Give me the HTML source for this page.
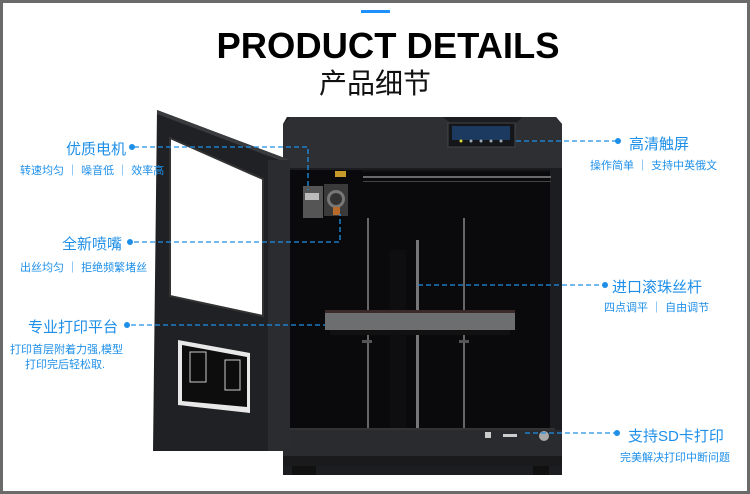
<!DOCTYPE html>
<html><head><meta charset="utf-8"><style>
html,body{margin:0;padding:0;background:#fff}
svg{display:block}
.t{font-family:"Liberation Sans","Noto Sans CJK SC",sans-serif;fill:#1e8fe8}
</style></head><body>
<svg width="750" height="494" viewBox="0 0 750 494" xmlns="http://www.w3.org/2000/svg">
<rect x="0" y="0" width="750" height="494" fill="#6a6a6a"/>
<rect x="3" y="3" width="744" height="488" fill="#fff"/>
<rect x="361" y="10" width="29" height="3" fill="#1e90ff"/>
<text x="388" y="58" text-anchor="middle" font-family="Liberation Sans,sans-serif" font-weight="bold" font-size="36" textLength="343" lengthAdjust="spacingAndGlyphs" fill="#000">PRODUCT DETAILS</text>
<text x="375" y="93" text-anchor="middle" font-family="Noto Sans CJK SC,sans-serif" font-size="28" fill="#111">产品细节</text>

<!-- printer body -->
<path d="M287 117 L556 117 L562 124 L562 475 L283 475 L283 124 Z" fill="#1c1d20"/>
<path d="M283 124 L290 117 L443 117 L450 123 L516 123 L522 117 L556 117 L562 124 L562 168 L283 168 Z" fill="#2d2f33"/>
<rect x="448" y="123" width="67" height="24" fill="#15161a" stroke="#444" stroke-width="1"/>
<rect x="452" y="126" width="58" height="14" fill="#1c3a60"/>
<g fill="#9ab">
<circle cx="461" cy="141" r="1.5" fill="#dd3"/><circle cx="471" cy="141" r="1.5"/><circle cx="481" cy="141" r="1.5"/><circle cx="491" cy="141" r="1.5"/><circle cx="501" cy="141" r="1.5"/></g>
<rect x="290" y="170" width="260" height="258" fill="#0a0a0c"/>
<rect x="362" y="170" width="188" height="2" fill="#111"/>
<rect x="363" y="176" width="188" height="2" fill="#6a6a6a"/>
<rect x="363" y="181" width="188" height="1" fill="#444"/>
<!-- extruder -->
<rect x="303" y="186" width="20" height="32" fill="#555"/>
<rect x="305" y="193" width="14" height="7" fill="#bbb"/>
<rect x="324" y="184" width="24" height="32" fill="#3a3a3a"/>
<circle cx="336" cy="199" r="9" fill="#777"/>
<circle cx="336" cy="199" r="6" fill="#333"/>
<rect x="333" y="207" width="7" height="8" fill="#b86a2a"/>
<rect x="335" y="171" width="11" height="6" fill="#c59a2a"/>
<!-- rods -->
<rect x="367" y="218" width="2" height="210" fill="#666"/>
<rect x="463" y="218" width="2" height="210" fill="#666"/>
<rect x="416" y="240" width="3" height="188" fill="#777"/>
<rect x="390" y="250" width="16" height="180" fill="#0e0e10"/>
<!-- bed -->
<rect x="325" y="310" width="190" height="20" fill="#6d6e70"/>
<rect x="325" y="310" width="190" height="3" fill="#3a2a2a"/>
<rect x="330" y="330" width="180" height="5" fill="#111"/>
<rect x="362" y="340" width="10" height="3" fill="#555"/>
<rect x="459" y="340" width="10" height="3" fill="#555"/>
<!-- bottom panel -->
<rect x="290" y="428" width="265" height="2" fill="#333"/>
<rect x="283" y="430" width="279" height="34" fill="#2a2b2e"/>
<rect x="283" y="456" width="279" height="10" fill="#1a1a1c"/>
<rect x="485" y="432" width="6" height="6" fill="#ccc"/>
<rect x="503" y="434" width="14" height="3" fill="#ccc"/>
<circle cx="544" cy="436" r="5" fill="#aaa"/>
<rect x="292" y="466" width="24" height="9" fill="#111"/>
<rect x="533" y="466" width="16" height="9" fill="#111"/>
<!-- door -->
<path d="M157 110 L290 160 L290 451 L153 451 Z" fill="#202124"/>
<path d="M157 110 L290 160 L290 164 L157 114 Z" fill="#3a3b3e"/>
<rect x="268" y="160" width="22" height="291" fill="#2b2c30"/>
<path d="M170 138 L263 179 L263 316 L170 296 Z" fill="#fff" stroke="#333" stroke-width="2"/>
<path d="M178 340 L250 353 L250 413 L178 405 Z" fill="#e8e8e8"/>
<path d="M182 345 L247 357 L247 407 L182 401 Z" fill="#0d0d0d"/>
<g stroke="#ccc" stroke-width="1" fill="none">
<rect x="190" y="352" width="16" height="30"/><rect x="225" y="360" width="15" height="30"/></g>

<!-- connectors -->
<g stroke="#1e8fe8" stroke-width="1.3" stroke-dasharray="5,3" fill="none">
<path d="M134 147 H308 V190"/>
<path d="M134 242 H340 V214"/>
<path d="M131 325 H325"/>
<path d="M516 141 H616"/>
<path d="M418 285 H603"/>
<path d="M525 433 H615"/>
</g>
<g fill="#1e8fe8">
<circle cx="132" cy="147" r="3"/><circle cx="130" cy="242" r="3"/><circle cx="127" cy="325" r="3"/>
<circle cx="618" cy="141" r="3"/><circle cx="605" cy="285" r="3"/><circle cx="617" cy="433" r="3"/>
</g>

<!-- labels -->
<text class="t" x="126" y="154" text-anchor="end" font-size="15">优质电机</text>
<text class="t" x="20" y="174" font-size="11">转速均匀 ｜ 噪音低 ｜ 效率高</text>
<text class="t" x="122" y="249" text-anchor="end" font-size="15">全新喷嘴</text>
<text class="t" x="20" y="271" font-size="11">出丝均匀 ｜ 拒绝频繁堵丝</text>
<text class="t" x="118" y="332" text-anchor="end" font-size="15">专业打印平台</text>
<text class="t" x="10" y="353" font-size="11">打印首层附着力强,模型</text>
<text class="t" x="25" y="368" font-size="11">打印完后轻松取.</text>

<text class="t" x="629" y="149" font-size="15">高清触屏</text>
<text class="t" x="590" y="169" font-size="11">操作简单 ｜ 支持中英俄文</text>
<text class="t" x="612" y="292" font-size="15">进口滚珠丝杆</text>
<text class="t" x="604" y="311" font-size="11">四点调平 ｜ 自由调节</text>
<text class="t" x="628" y="441" font-size="15">支持SD卡打印</text>
<text class="t" x="620" y="461" font-size="11">完美解决打印中断问题</text>
</svg>
</body></html>
